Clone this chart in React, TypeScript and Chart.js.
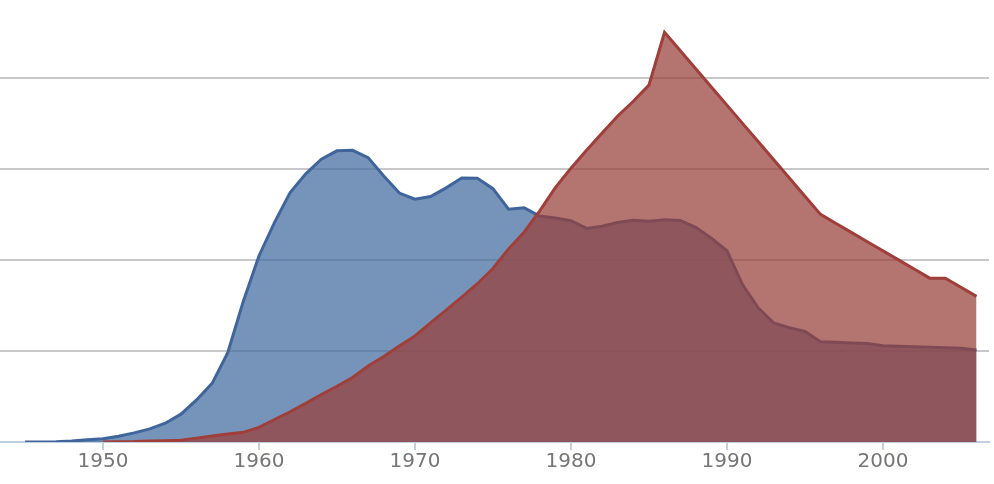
import React, { useEffect, useRef } from "react";
import { Chart, registerables } from "chart.js";

Chart.register(...registerables);

const years = [
  1945, 1946, 1947, 1948, 1949, 1950, 1951, 1952, 1953, 1954, 1955, 1956, 1957, 1958, 1959,
  1960, 1961, 1962, 1963, 1964, 1965, 1966, 1967, 1968, 1969, 1970, 1971, 1972, 1973, 1974,
  1975, 1976, 1977, 1978, 1979, 1980, 1981, 1982, 1983, 1984, 1985, 1986, 1987, 1988, 1989,
  1990, 1991, 1992, 1993, 1994, 1995, 1996, 1997, 1998, 1999, 2000, 2001, 2002, 2003, 2004,
  2005, 2006,
];

const usa = [
  6, 11, 32, 110, 235, 369, 640, 1005, 1436, 2063, 3057, 4618, 6444, 9822, 15468,
  20434, 24126, 27387, 29459, 31056, 31982, 32040, 31233, 29224, 27342, 26662, 26956, 27912, 28999, 28965,
  27826, 25579, 25722, 24826, 24605, 24304, 23464, 23708, 24099, 24357, 24237, 24401, 24344, 23586, 22380,
  21004, 17287, 14747, 13076, 12555, 12144, 11009, 10950, 10871, 10824, 10577, 10527, 10475, 10421, 10358,
  10295, 10104,
];

const ussr = [
  null, null, null, null, null, 5, 25, 50, 120, 150, 200, 426, 660, 869, 1060,
  1605, 2471, 3322, 4238, 5221, 6129, 7089, 8339, 9399, 10538, 11643, 13092, 14478, 15915, 17385,
  19055, 21205, 23044, 25393, 27935, 30062, 32049, 33952, 35804, 37431, 39197, 45000, 43000, 41000, 39000,
  37000, 35000, 33000, 31000, 29000, 27000, 25000, 24000, 23000, 22000, 21000, 20000, 19000, 18000, 18000,
  17000, 16000,
];

const xTickValues = [1950, 1960, 1970, 1980, 1990, 2000];
const yGridValues = [0, 10000, 20000, 30000, 40000];

export default function App() {
  const ref = useRef<HTMLCanvasElement | null>(null);

  useEffect(() => {
    document.body.style.margin = "0";
    const canvas = ref.current;
    if (!canvas) return;
    const toPoints = (vals: (number | null)[]) =>
      years.map((y, i) => ({ x: y, y: vals[i] }));

    const chart = new Chart(canvas, {
      type: "line",
      data: {
        datasets: [
          {
            label: "USA",
            data: toPoints(usa) as any,
            borderColor: "#3F659C",
            backgroundColor: "rgba(67,108,160,0.73)",
            borderWidth: 3,
            fill: "origin",
            pointRadius: 0,
            tension: 0,
            order: 2,
          },
          {
            label: "USSR/Russia",
            data: toPoints(ussr) as any,
            borderColor: "#A03E3A",
            backgroundColor: "rgba(152,65,59,0.73)",
            borderWidth: 3,
            fill: "origin",
            pointRadius: 0,
            tension: 0,
            order: 1,
          },
        ],
      },
      options: {
        responsive: false,
        animation: false,
        layout: { padding: { top: 5, right: 5, left: 0, bottom: 0 } },
        plugins: {
          legend: { display: false },
          tooltip: { enabled: false },
        },
        scales: {
          x: {
            type: "linear",
            min: 1943.4,
            max: 2006.8,
            afterBuildTicks: (s: any) => {
              s.ticks = xTickValues.map((v) => ({ value: v }));
            },
            afterFit: (s: any) => {
              s.height = 42;
            },
            ticks: {
              color: "#767676",
              font: { family: "DejaVu Sans", size: 20 },
              padding: 0,
              maxRotation: 0,
              autoSkip: false,
              callback: (v: any) => String(v),
            },
            grid: {
              drawOnChartArea: false,
              drawTicks: true,
              tickLength: 8,
              color: "#C0D0E0",
              lineWidth: 2,
            },
            border: { display: true, color: "#C0D0E0", width: 2 },
          },
          y: {
            min: 0,
            max: 48000,
            afterBuildTicks: (s: any) => {
              s.ticks = yGridValues.map((v) => ({ value: v }));
            },
            afterFit: (s: any) => {
              s.width = 0;
            },
            ticks: { display: false },
            grid: {
              drawTicks: false,
              color: (ctx: any) =>
                ctx.tick && ctx.tick.value === 0 ? "rgba(0,0,0,0)" : "#C8C8C8",
              lineWidth: 2,
            },
            border: { display: false },
          },
        },
      },
    });
    return () => chart.destroy();
  }, []);

  return (
    <div style={{ position: "absolute", left: 0, top: 0, width: 994, height: 484 }}>
      <canvas ref={ref} width={994} height={484} />
    </div>
  );
}
